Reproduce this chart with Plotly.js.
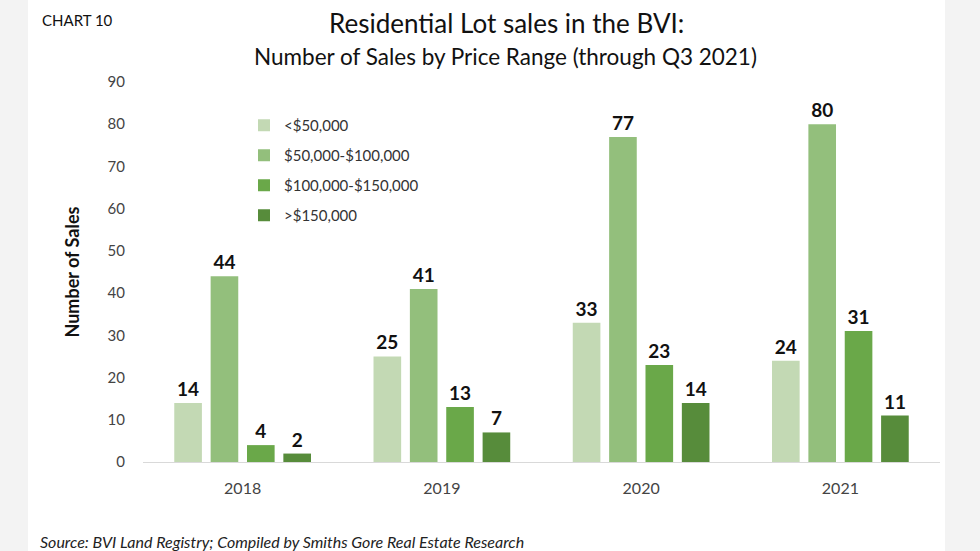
<!DOCTYPE html>
<html>
<head>
<meta charset="utf-8">
<script src="https://cdn.plot.ly/plotly-3.0.1.min.js"></script>
<style>html,body{margin:0;padding:0;background:#fff;}#chart{width:980px;height:551px;}</style>
</head>
<body>
<div id="chart"></div>
<script>
const years = ['2018', '2019', '2020', '2021'];
const seriesNames = ['<$50,000', '$50,000-$100,000', '$100,000-$150,000', '>$150,000'];
const under50k = [14, 25, 33, 24];
const from50to100k = [44, 41, 77, 80];
const from100to150k = [4, 13, 23, 31];
const over150k = [2, 7, 14, 11];
const seriesValues = [under50k, from50to100k, from100to150k, over150k];
const colors = ['#c3d9b4', '#93bf7c', '#6aa849', '#578c3b'];
const yTicks = [0, 10, 20, 30, 40, 50, 60, 70, 80, 90];

const FONT = 'Lato, "Open Sans", sans-serif';

const traces = seriesValues.map((vals, i) => ({
  type: 'bar',
  name: seriesNames[i],
  legendgroup: 'g' + i,
  x: years,
  y: vals,
  marker: {color: colors[i], line: {width: 0}},
  text: vals.map(String),
  texttemplate: '<b>%{text}</b>',
  textposition: 'outside',
  textfont: {family: FONT, size: 19, color: '#111'},
  cliponaxis: false,
  hoverinfo: 'skip'
}));

const layout = {
  width: 980,
  height: 551,
  paper_bgcolor: '#ffffff',
  plot_bgcolor: '#ffffff',
  margin: {l: 143, r: 40, t: 82, b: 89},
  font: {family: FONT, color: '#333'},
  barmode: 'group',
  bargap: 0.27,
  bargroupgap: 0.24,
  showlegend: true,
  legend: {
    x: (244 - 143) / 797, y: 1 - 27 / 380, xanchor: 'left', yanchor: 'top',
    font: {family: FONT, size: 15, color: '#333'},
    bgcolor: 'rgba(0,0,0,0)',
    tracegroupgap: 7.5,
    itemwidth: 30
  },
  xaxis: {
    type: 'category',
    showline: true, linecolor: '#d9d9d9', linewidth: 1,
    ticks: '', showgrid: false, zeroline: false,
    ticklabelstandoff: 12,
    tickfont: {family: FONT, size: 16, color: '#444'}
  },
  yaxis: {
    range: [0, 90],
    tickvals: yTicks,
    showline: false, showgrid: false, zeroline: false,
    ticks: '',
    ticklabelstandoff: 17,
    tickfont: {family: FONT, size: 15, color: '#444'},
    title: {text: '<b>Number of Sales</b>', font: {family: FONT, size: 18, color: '#111'}, standoff: 23}
  },
  shapes: [
    {type: 'rect', xref: 'paper', yref: 'paper', x0: -143/797, x1: -115/797, y0: -89/380, y1: 1 + 82/380, fillcolor: '#f3f3f3', line: {width: 0}, layer: 'below'},
    {type: 'rect', xref: 'paper', yref: 'paper', x0: 1 + 5/797, x1: 1 + 40/797, y0: -89/380, y1: 1 + 82/380, fillcolor: '#f3f3f3', line: {width: 0}, layer: 'below'}
  ],
  annotations: [
    {text: 'CHART 10', xref: 'paper', yref: 'paper', x: -103/797, y: 1 + 62/380, xanchor: 'left', yanchor: 'middle', showarrow: false, font: {family: FONT, size: 15, color: '#111'}},
    {text: 'Residential Lot sales in the BVI:', xref: 'paper', yref: 'paper', x: (506-143)/797, y: 1 + 59/380, xanchor: 'center', yanchor: 'middle', showarrow: false, font: {family: FONT, size: 26, color: '#111'}},
    {text: 'Number of Sales by Price Range (through Q3 2021)', xref: 'paper', yref: 'paper', x: (505-143)/797, y: 1 + 25/380, xanchor: 'center', yanchor: 'middle', showarrow: false, font: {family: FONT, size: 22.5, color: '#111'}},
    {text: '<i>Source: BVI Land Registry; Compiled by Smiths Gore Real Estate Research</i>', xref: 'paper', yref: 'paper', x: -105/797, y: -79/380, xanchor: 'left', yanchor: 'middle', showarrow: false, font: {family: FONT, size: 16, color: '#222'}}
  ]
};

Plotly.newPlot('chart', traces, layout, {displayModeBar: false, staticPlot: true});
</script>
</body>
</html>
